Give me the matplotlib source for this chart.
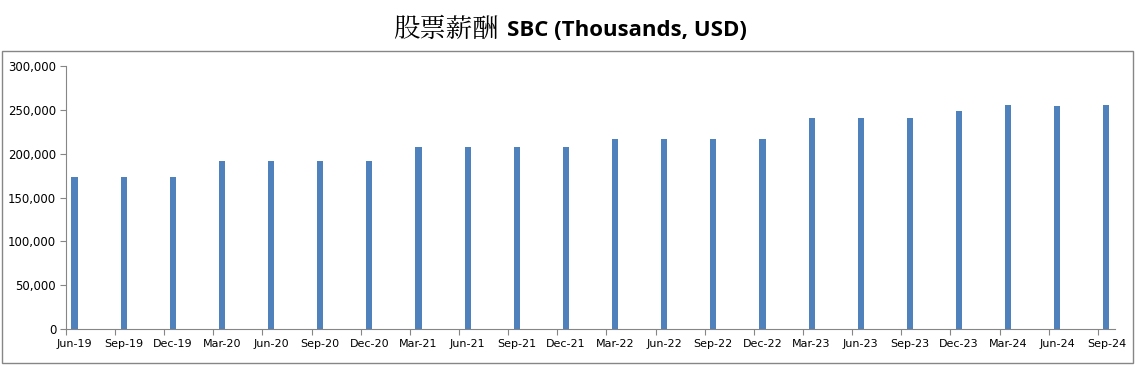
import numpy as np
import matplotlib.pyplot as plt
from matplotlib.patches import Rectangle
from matplotlib.ticker import FuncFormatter

quarters = ["Jun-19", "Sep-19", "Dec-19", "Mar-20", "Jun-20", "Sep-20", "Dec-20",
            "Mar-21", "Jun-21", "Sep-21", "Dec-21", "Mar-22", "Jun-22", "Sep-22",
            "Dec-22", "Mar-23", "Jun-23", "Sep-23", "Dec-23", "Mar-24", "Jun-24", "Sep-24"]
sbc = [173700, 173700, 173700, 191600, 191600, 191600, 191600,
       207500, 207500, 207500, 207500, 216600, 216600, 216600,
       216600, 240600, 240600, 240600, 248600, 255400, 254300, 255400]

BAR_COLOR = "#4F81BD"
AXIS_COLOR = "#868686"

fig = plt.figure(figsize=(11.35, 3.69), dpi=100)
ax = fig.add_axes([0.0581, 0.1084, 0.9824 - 0.0581, 0.8211 - 0.1084])

# outer chart border
fig.patches.append(Rectangle((0.002, 0.016), 0.996, 0.846, transform=fig.transFigure,
                             fill=False, edgecolor=AXIS_COLOR, linewidth=1))

idx = np.arange(len(quarters))
offset = 0.175
ax.bar(idx + offset, sbc, width=0.125, color=BAR_COLOR)

ax.set_xlim(0, len(quarters) - 1 + 0.35)
ax.set_ylim(0, 300000)
ax.set_yticks(np.arange(0, 300001, 50000))
ax.yaxis.set_major_formatter(FuncFormatter(lambda v, p: f"{int(v):,}"))

# ticks at category boundaries, labels under the bars
ax.set_xticks(idx)
ax.set_xticklabels([])
ax.set_xticks(idx + offset, minor=True)
ax.set_xticklabels(quarters, minor=True)
ax.tick_params(axis="x", which="minor", length=0, pad=7, labelsize=8)
ax.tick_params(axis="x", which="major", length=4, color=AXIS_COLOR)
ax.tick_params(axis="y", length=4, color=AXIS_COLOR, labelsize=8.5, pad=3)

for s in ["top", "right"]:
    ax.spines[s].set_visible(False)
for s in ["left", "bottom"]:
    ax.spines[s].set_color(AXIS_COLOR)

fig.text(0.4395, 0.918, "股票薪酬", ha="right", va="center", fontsize=19,
         family=["Noto Serif CJK SC", "Noto Sans CJK SC", "DejaVu Sans"])
fig.text(0.4467, 0.918, "SBC (Thousands, USD)", ha="left", va="center", fontsize=16,
         fontweight="bold", family=["Open Sans", "DejaVu Sans"])

fig.savefig("out.png", dpi=100)
